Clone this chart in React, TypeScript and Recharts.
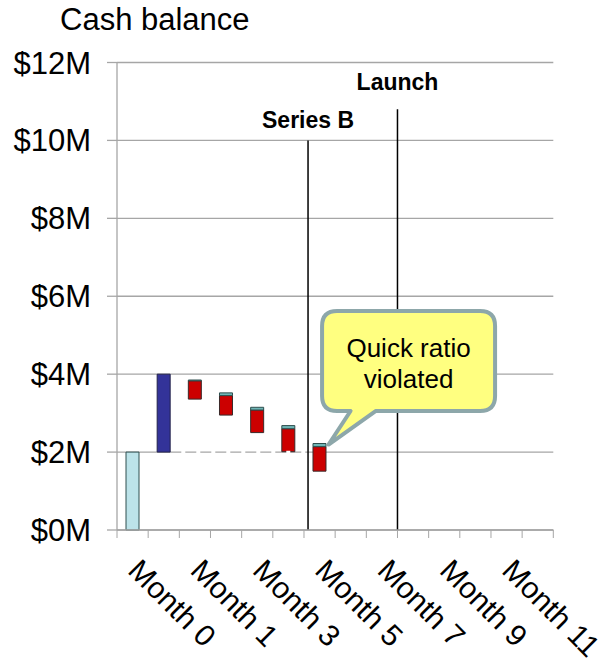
import React from 'react'
import { BarChart, Bar, XAxis, YAxis, CartesianGrid, ReferenceLine, ReferenceDot } from 'recharts'

const FONT = '"Liberation Sans", Arial, Helvetica, sans-serif'
const GRID = '#A6A6A6'

// one slot per month; slot 1 is the funding step, unlabeled on the axis
const months = [
  'Month 0', 'Funding', 'Month 1', 'Month 2', 'Month 3', 'Month 4', 'Month 5',
  'Month 6', 'Month 7', 'Month 8', 'Month 9', 'Month 10', 'Month 11', 'Month 12',
]
// $M
const openingCash = [2, null, null, null, null, null, null, null, null, null, null, null, null, null]
const fundingRaised = [null, 2, null, null, null, null, null, null, null, null, null, null, null, null]
const stepBase = [0, 2, 3.36, 2.95, 2.5, 2.01, 1.51, null, null, null, null, null, null, null]
const burn = [null, null, 0.47, 0.5, 0.58, 0.59, 0.63, null, null, null, null, null, null, null]
const revenue = [null, null, 0.02, 0.07, 0.07, 0.08, 0.08, null, null, null, null, null, null, null]

const yTicks = [0, 2, 4, 6, 8, 10, 12]

// milestones, placed in month-slot units along the axis
const eventNames = ['Series B', 'Launch']
const eventSlot = [6.13, 9]
const eventTop = [10, 10.8]
const eventLabelGap = [12, 19]

// quick-ratio floor drawn as a dashed stretch
const floorValue = 2
const floorFrom = 1.71
const floorTo = 6.13

const calloutMonth = 6

const data = months.map((month, i) => ({
  month,
  slot: i + 0.5,
  base: stepBase[i],
  cash: openingCash[i],
  funding: fundingRaised[i],
  burn: burn[i],
  revenue: revenue[i],
}))

function MonthTick(props: any) {
  const { x, y, payload, index } = props
  const half = payload?.offset ?? 15.6
  const tx = x - 6
  const ty = y + 42
  return (
    <g>
      <line x1={x - half} y1={y} x2={x - half} y2={y + 8} stroke={GRID} />
      {index === months.length - 1 && (
        <line x1={x + half} y1={y} x2={x + half} y2={y + 8} stroke={GRID} />
      )}
      {index % 2 === 0 && (
        <text
          x={tx}
          y={ty}
          transform={`rotate(45, ${tx}, ${ty})`}
          fontSize={30}
          fontFamily={FONT}
          fill="#000"
          textAnchor="start"
        >
          {payload.value}
        </text>
      )}
    </g>
  )
}

function Callout(props: any) {
  const { cx, cy } = props
  const tx = cx + 9
  const ty = cy + 1
  const L = tx - 6.5
  const R = tx + 166.5
  const T = ty - 133.5
  const B = ty - 33.5
  const r = 15
  const baseL = tx + 22
  const baseR = tx + 47
  const d =
    `M${L + r},${T} H${R - r} Q${R},${T} ${R},${T + r} V${B - r} Q${R},${B} ${R - r},${B} ` +
    `H${baseR} L${tx},${ty} L${baseL},${B} H${L + r} Q${L},${B} ${L},${B - r} ` +
    `V${T + r} Q${L},${T} ${L + r},${T} Z`
  const mid = (L + R) / 2
  return (
    <g>
      <path d={d} fill="#FFFF80" stroke="#8DA7AA" strokeWidth={4} strokeLinejoin="round" />
      <text x={mid} y={ty - 88} textAnchor="middle" fontSize={26} fontFamily={FONT} fill="#000">
        Quick ratio
      </text>
      <text x={mid} y={ty - 57} textAnchor="middle" fontSize={26} fontFamily={FONT} fill="#000">
        violated
      </text>
    </g>
  )
}

export default function App() {
  const calloutTop = (stepBase[calloutMonth] ?? 0) + (burn[calloutMonth] ?? 0) + (revenue[calloutMonth] ?? 0)

  return (
    <div style={{ position: 'absolute', left: 0, top: 0, width: 600, height: 662, background: '#fff' }}>
      <svg width={600} height={50} style={{ position: 'absolute', left: 0, top: 0 }}>
        <text x={60} y={30} fontSize={31} fontFamily={FONT} fill="#000">
          Cash balance
        </text>
      </svg>
      <BarChart
        width={600}
        height={662}
        data={data}
        margin={{ top: 62.5, right: 46.7, bottom: 0, left: 0 }}
        barSize={13}
        style={{ position: 'absolute', left: 0, top: 0 }}
      >
        <CartesianGrid vertical={false} stroke={GRID} strokeWidth={1.3} />
        <XAxis
          dataKey="month"
          interval={0}
          height={132}
          axisLine={{ stroke: GRID, strokeWidth: 1.3 }}
          tickLine={false}
          tickSize={0}
          tickMargin={0}
          tick={<MonthTick />}
        />
        <XAxis xAxisId="slot" dataKey="slot" type="number" domain={[0, 14]} hide />
        <YAxis
          domain={[0, 12]}
          ticks={yTicks}
          width={117}
          interval={0}
          tickSize={10}
          tickMargin={16}
          axisLine={{ stroke: GRID, strokeWidth: 1.3 }}
          tickLine={{ stroke: GRID, strokeWidth: 1.3 }}
          tickFormatter={(v: number) => `$${v}M`}
          tick={{ fontSize: 31, fontFamily: FONT, fill: '#000' }}
        />

        <ReferenceLine
          xAxisId="slot"
          segment={[{ x: floorFrom, y: floorValue }, { x: floorTo, y: floorValue }]}
          stroke="#fff"
          strokeWidth={2.5}
          strokeDasharray="4 11"
          strokeDashoffset={4}
        />

        <Bar dataKey="base" stackId="w" fill="transparent" isAnimationActive={false} />
        <Bar dataKey="cash" stackId="w" fill="#BCE3E9" stroke="#2E4E4E" strokeWidth={1} isAnimationActive={false} />
        <Bar dataKey="funding" stackId="w" fill="#333399" stroke="#22224A" strokeWidth={1} isAnimationActive={false} />
        <Bar dataKey="burn" stackId="w" fill="#CC0000" stroke="#3A2A2A" strokeWidth={1} isAnimationActive={false} />
        <Bar dataKey="revenue" stackId="w" fill="#6FB5B5" stroke="#2E4E4E" strokeWidth={1} isAnimationActive={false} />

        {eventNames.map((name, i) => (
          <ReferenceLine
            key={name}
            xAxisId="slot"
            segment={[{ x: eventSlot[i], y: 0 }, { x: eventSlot[i], y: eventTop[i] }]}
            stroke="#000"
            strokeWidth={1.5}
            label={{
              value: name,
              position: 'top',
              offset: eventLabelGap[i],
              fontSize: 23,
              fontWeight: 700,
              fontFamily: FONT,
              fill: '#000',
            }}
          />
        ))}

        <ReferenceDot
          x={months[calloutMonth]}
          y={calloutTop}
          r={0}
          ifOverflow="visible"
          shape={(p: any) => <Callout {...p} />}
        />
      </BarChart>
    </div>
  )
}
